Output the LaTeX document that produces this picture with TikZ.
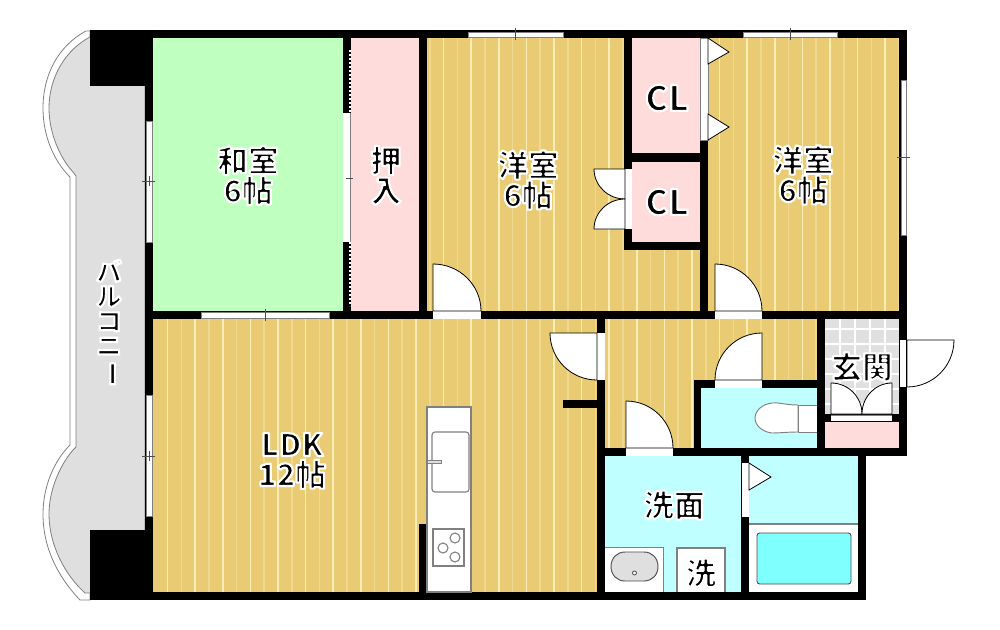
\documentclass[tikz,border=0pt]{standalone}
\usepackage{fontspec}
\usepackage{graphicx}
\newfontfamily\jp{Noto Sans CJK JP}
\newcommand{\halotxt}[1]{{\special{pdf:code 2 Tr 1 1 1 RG 1.6 w 1 j}#1\special{pdf:code 0 Tr}}}
\newcommand{\doorswing}[6]{\filldraw[swingdoor] (#1,#2) -- ({#1+#3},{#2+#4}) .. controls ({#1+#3+0.552*#5},{#2+#4+0.552*#6}) and ({#1+#5+0.552*#3},{#2+#6+0.552*#4}) .. ({#1+#5},{#2+#6}) -- cycle;}
\definecolor{wood}{HTML}{E8CB72}
\definecolor{woodA}{HTML}{FAEDB5}
\definecolor{woodB}{HTML}{F0D98E}
\definecolor{tatami}{HTML}{BFFFBF}
\definecolor{closet}{HTML}{FFDCDC}
\definecolor{wet}{HTML}{BFFFFF}
\definecolor{tub}{HTML}{80FFFF}
\definecolor{balc}{HTML}{DFDFDF}
\definecolor{tile}{HTML}{E0E0E0}
\definecolor{lineg}{HTML}{808080}
\tikzset{
  wall/.style={fill=black,draw=none},
  opening/.style={fill=white,draw=none},
  windowbox/.style={fill=white,draw=lineg,line width=0.75pt},
  tickmark/.style={draw=black!70,line width=0.6pt},
  swingdoor/.style={fill=white,draw=black,line width=0.6pt},
  fixture/.style={fill=white,draw=lineg,line width=0.8pt},
  roomlabel/.style={font=\jp\bfseries\fontsize{23}{22.5}\selectfont,align=center,inner sep=0pt,text=black},
  latinlabel/.style={roomlabel,font=\jp\bfseries\fontsize{26}{26}\selectfont},
}
\begin{document}
\begin{tikzpicture}[x=0.75pt,y=-0.75pt]
\useasboundingbox (0,0) rectangle (1000,629);
\fill[white] (0,0) rectangle (1000,629);
% balcony
\filldraw[fill=white,draw=lineg,line width=0.6pt] (90,31) -- (86,31) .. controls (58,46) and (43,75) .. (43,108) .. controls (43,135) and (53,160) .. (70,177) -- (70,445) .. controls (53,462) and (43,488) .. (43,514) .. controls (43,548) and (58,577) .. (80,600) -- (90,600) -- cycle;
\filldraw[fill=balc,draw=lineg,line width=0.6pt] (90,37) .. controls (65,50) and (49,78) .. (49,108) .. controls (49,133) and (60,158) .. (73,172) -- (76,176) -- (76,447) -- (73,450) .. controls (60,465) and (49,490) .. (49,514) .. controls (49,545) and (65,575) .. (85,593) -- (90,593) -- (145,593) -- (145,37) -- cycle;
% wood floors
\fill[wood] (427,38) rectangle (625,311);
\fill[wood] (700,38) rectangle (899,311);
\fill[wood] (153,319) rectangle (597,592);
\fill[wood] (605,319) rectangle (817,448);
\fill[wood] (625,250) rectangle (700,311);
\begin{scope}
\clip (427,38) rectangle (625,311) (700,38) rectangle (899,311) (153,319) rectangle (597,592) (605,319) rectangle (817,448) (625,250) rectangle (700,311);
\foreach \k in {0,...,54} {
  \pgfmathsetmacro{\xx}{167.6+13.8*\k}
  \pgfmathtruncatemacro{\md}{mod(\k,2)}
  \ifnum\md=0
    \draw[woodA,line width=1.1pt] (\xx,30) -- (\xx,600);
  \else
    \draw[woodB,line width=1.1pt] (\xx,30) -- (\xx,600);
  \fi
}
\end{scope}
% plain rooms
\fill[tatami] (153,38) rectangle (343,311);
\fill[closet] (351,38) rectangle (419,311);
\fill[closet] (632,38) rectangle (700,153);
\fill[closet] (632,162) rectangle (700,242);
\fill[closet] (825,422) rectangle (899,448);
\fill[wet] (701,388) rectangle (817,448);
\fill[wet] (605,456) rectangle (741,592);
\fill[wet] (749,456) rectangle (858,524);
\fill[white] (749,524) rectangle (858,592);
\draw[lineg,line width=0.8pt] (749,524) -- (858,524);
% entry tiles
\fill[tile] (825,319) rectangle (899,415);
\foreach \x in {840,855,870,885} \draw[white,line width=0.8pt] (\x,319) -- (\x,415);
\foreach \y in {329,344,359,374,389,404} \draw[white,line width=0.8pt] (825,\y) -- (899,\y);
% walls
\foreach \a/\b/\c/\d in {
 90/30/907/38, 145/30/153/600, 90/30/145/86, 90/530/153/600, 90/592/866/600,
 145/311/907/319, 343/38/351/311, 419/38/427/319, 624/30/632/250,
 624/153/708/162, 624/242/708/250, 700/140/708/319, 899/30/907/456,
 597/311/605/600, 563/400/597/408, 419/524/427/592, 597/448/907/456,
 817/319/825/456, 694/380/701/456, 694/380/817/388, 817/414/899/422,
 741/456/749/600, 858/456/866/600}
 \fill[wall] (\a,\b) rectangle (\c,\d);
% windows
\draw[windowbox] (146,121) rectangle (152,242);
\draw[tickmark] (142,181) -- (155,181) (149,176) -- (149,186);
\draw[windowbox] (146,395) rectangle (152,516);
\draw[tickmark] (142,456) -- (155,456) (149,451) -- (149,461);
\draw[windowbox] (201,312) rectangle (329,318);
\draw[tickmark] (265,309) -- (265,321);
\draw[windowbox] (468,32) rectangle (563,37);
\draw[tickmark] (515,28) -- (515,40);
\draw[windowbox] (743,32) rectangle (837,37);
\draw[tickmark] (790,28) -- (790,40);
\draw[windowbox] (901,80) rectangle (906,235);
\draw[tickmark] (897,157) -- (910,157);
% closet sliding opening
\fill[opening] (343,113) rectangle (350,242);
\draw[lineg,line width=0.7pt] (350,113) -- (350,242);
\draw[tickmark] (346,178) -- (353,178);
\draw[lineg,line width=2.2pt,dash pattern=on 1.8pt off 1.2pt] (350,50) -- (350,113) (350,242) -- (350,306);
\draw[white,line width=0.8pt,dash pattern=on 1.8pt off 1.2pt] (350,50) -- (350,113) (350,242) -- (350,306);
% door openings
\fill[opening] (433,311) rectangle (481,319);
\fill[opening] (715,311) rectangle (762,319);
\fill[opening] (597,333) rectangle (605,380);
\fill[opening] (715,380) rectangle (762,388);
\fill[opening] (626,448) rectangle (673,456);
\fill[opening] (742,463) rectangle (749,517);
\filldraw[fill=white,draw=lineg,line width=0.5pt] (700,38) rectangle (708,140);
\fill[opening] (625,169) rectangle (632,229);
\fill[opening] (900,340) rectangle (906,387);
\fill[opening] (831,415) rectangle (892,421);
\draw[lineg,line width=0.6pt] (831,415) -- (892,415);
% door swings
\doorswing{433}{311}{0}{-47}{48}{0}
\doorswing{715}{311}{0}{-47}{47}{0}
\doorswing{597}{333}{-47}{0}{0}{47}
\doorswing{762}{380}{0}{-47}{-47}{0}
\doorswing{626}{448}{0}{-47}{47}{0}
\doorswing{907}{340}{47}{0}{0}{47}
\doorswing{625}{169}{-31}{0}{0}{30}
\doorswing{625}{229}{-31}{0}{0}{-30}
\doorswing{831}{414}{0}{-31}{31}{0}
\doorswing{892}{414}{0}{-31}{-30}{0}
\filldraw[swingdoor] (749,463) -- (771,477) -- (749,490) -- cycle;
\filldraw[swingdoor] (708,38) -- (729,52) -- (708,64) -- cycle;
\filldraw[swingdoor] (708,114) -- (729,127) -- (708,140) -- cycle;
% kitchen
\filldraw[fixture] (427,407) rectangle (471,592);
\draw[fixture,rounded corners=2.2pt] (432,432) rectangle (469,492);
\filldraw[fill=balc,draw=lineg,line width=0.6pt] (427,460) rectangle (441,463);
\draw[fixture] (433,529) rectangle (464,566);
\draw[fixture] (455,538) circle[radius=5];
\draw[fixture] (443,548) circle[radius=5];
\draw[fixture] (455,557) circle[radius=5];
% toilet
\filldraw[fill=white,draw=lineg,line width=0.7pt] (798,405) .. controls (785,405) and (778,402) .. (772,403) .. controls (762,404) and (755,411) .. (755,418) .. controls (755,426) and (763,432) .. (772,433) .. controls (780,433) and (787,432) .. (798,432) -- cycle;
\filldraw[fill=white,draw=lineg,line width=0.7pt] (817,405) -- (798,405) -- (798,432) -- (817,432);
% wash basin and washer
\fill[white] (605,547) rectangle (663,592);
\draw[lineg,line width=0.6pt] (605,547) -- (663,547) -- (663,592);
\filldraw[fill=balc,draw=black!70,line width=0.7pt] (625,552) -- (644,552) .. controls (652,552) and (658,558) .. (658,566.5) .. controls (658,575) and (652,581) .. (644,581) -- (625,581) .. controls (617,581) and (611,575) .. (611,566.5) .. controls (611,558) and (617,552) .. (625,552) -- cycle;
\filldraw[fill=white,draw=black!70,line width=0.6pt] (634.5,573) circle[radius=2];
\filldraw[fixture] (677,592) -- (677,548) -- (725,548) -- (725,592);
% bath tub
\filldraw[fill=tub,draw=black!70,line width=0.7pt,rounded corners=2pt] (757,533) rectangle (851,584);
% labels
\node[roomlabel] (washitsu) at (248,175.5) {\halotxt{和室}\\\halotxt{6帖}};
\node[roomlabel] (oshiire) at (386,175.5) {\halotxt{押}\\\halotxt{入}};
\node[roomlabel] (youshitsu1) at (528,180) {\halotxt{洋室}\\\halotxt{6帖}};
\node[roomlabel] (youshitsu2) at (803,175) {\halotxt{洋室}\\\halotxt{6帖}};
\node[latinlabel] (cl1) at (667,98) {\halotxt{CL}};
\node[latinlabel] (cl2) at (667,202) {\halotxt{CL}};
\node[roomlabel] (ldk) at (292,461) {\halotxt{LDK}\\\halotxt{12帖}};
\node[roomlabel] (senmen) at (674,505) {\halotxt{洗面}};
\node[roomlabel] (genkan) at (862,367) {\halotxt{玄関}};
\node[roomlabel] (sentaku) at (701,573) {\halotxt{洗}};
\node[roomlabel,font=\jp\bfseries\fontsize{19}{18.5}\selectfont] (balcony) at (109,323) {\halotxt{バ}\\\halotxt{ル}\\\halotxt{コ}\\\halotxt{ニ}\\\rotatebox[origin=c]{-90}{\halotxt{ー}}};
\end{tikzpicture}
\end{document}
